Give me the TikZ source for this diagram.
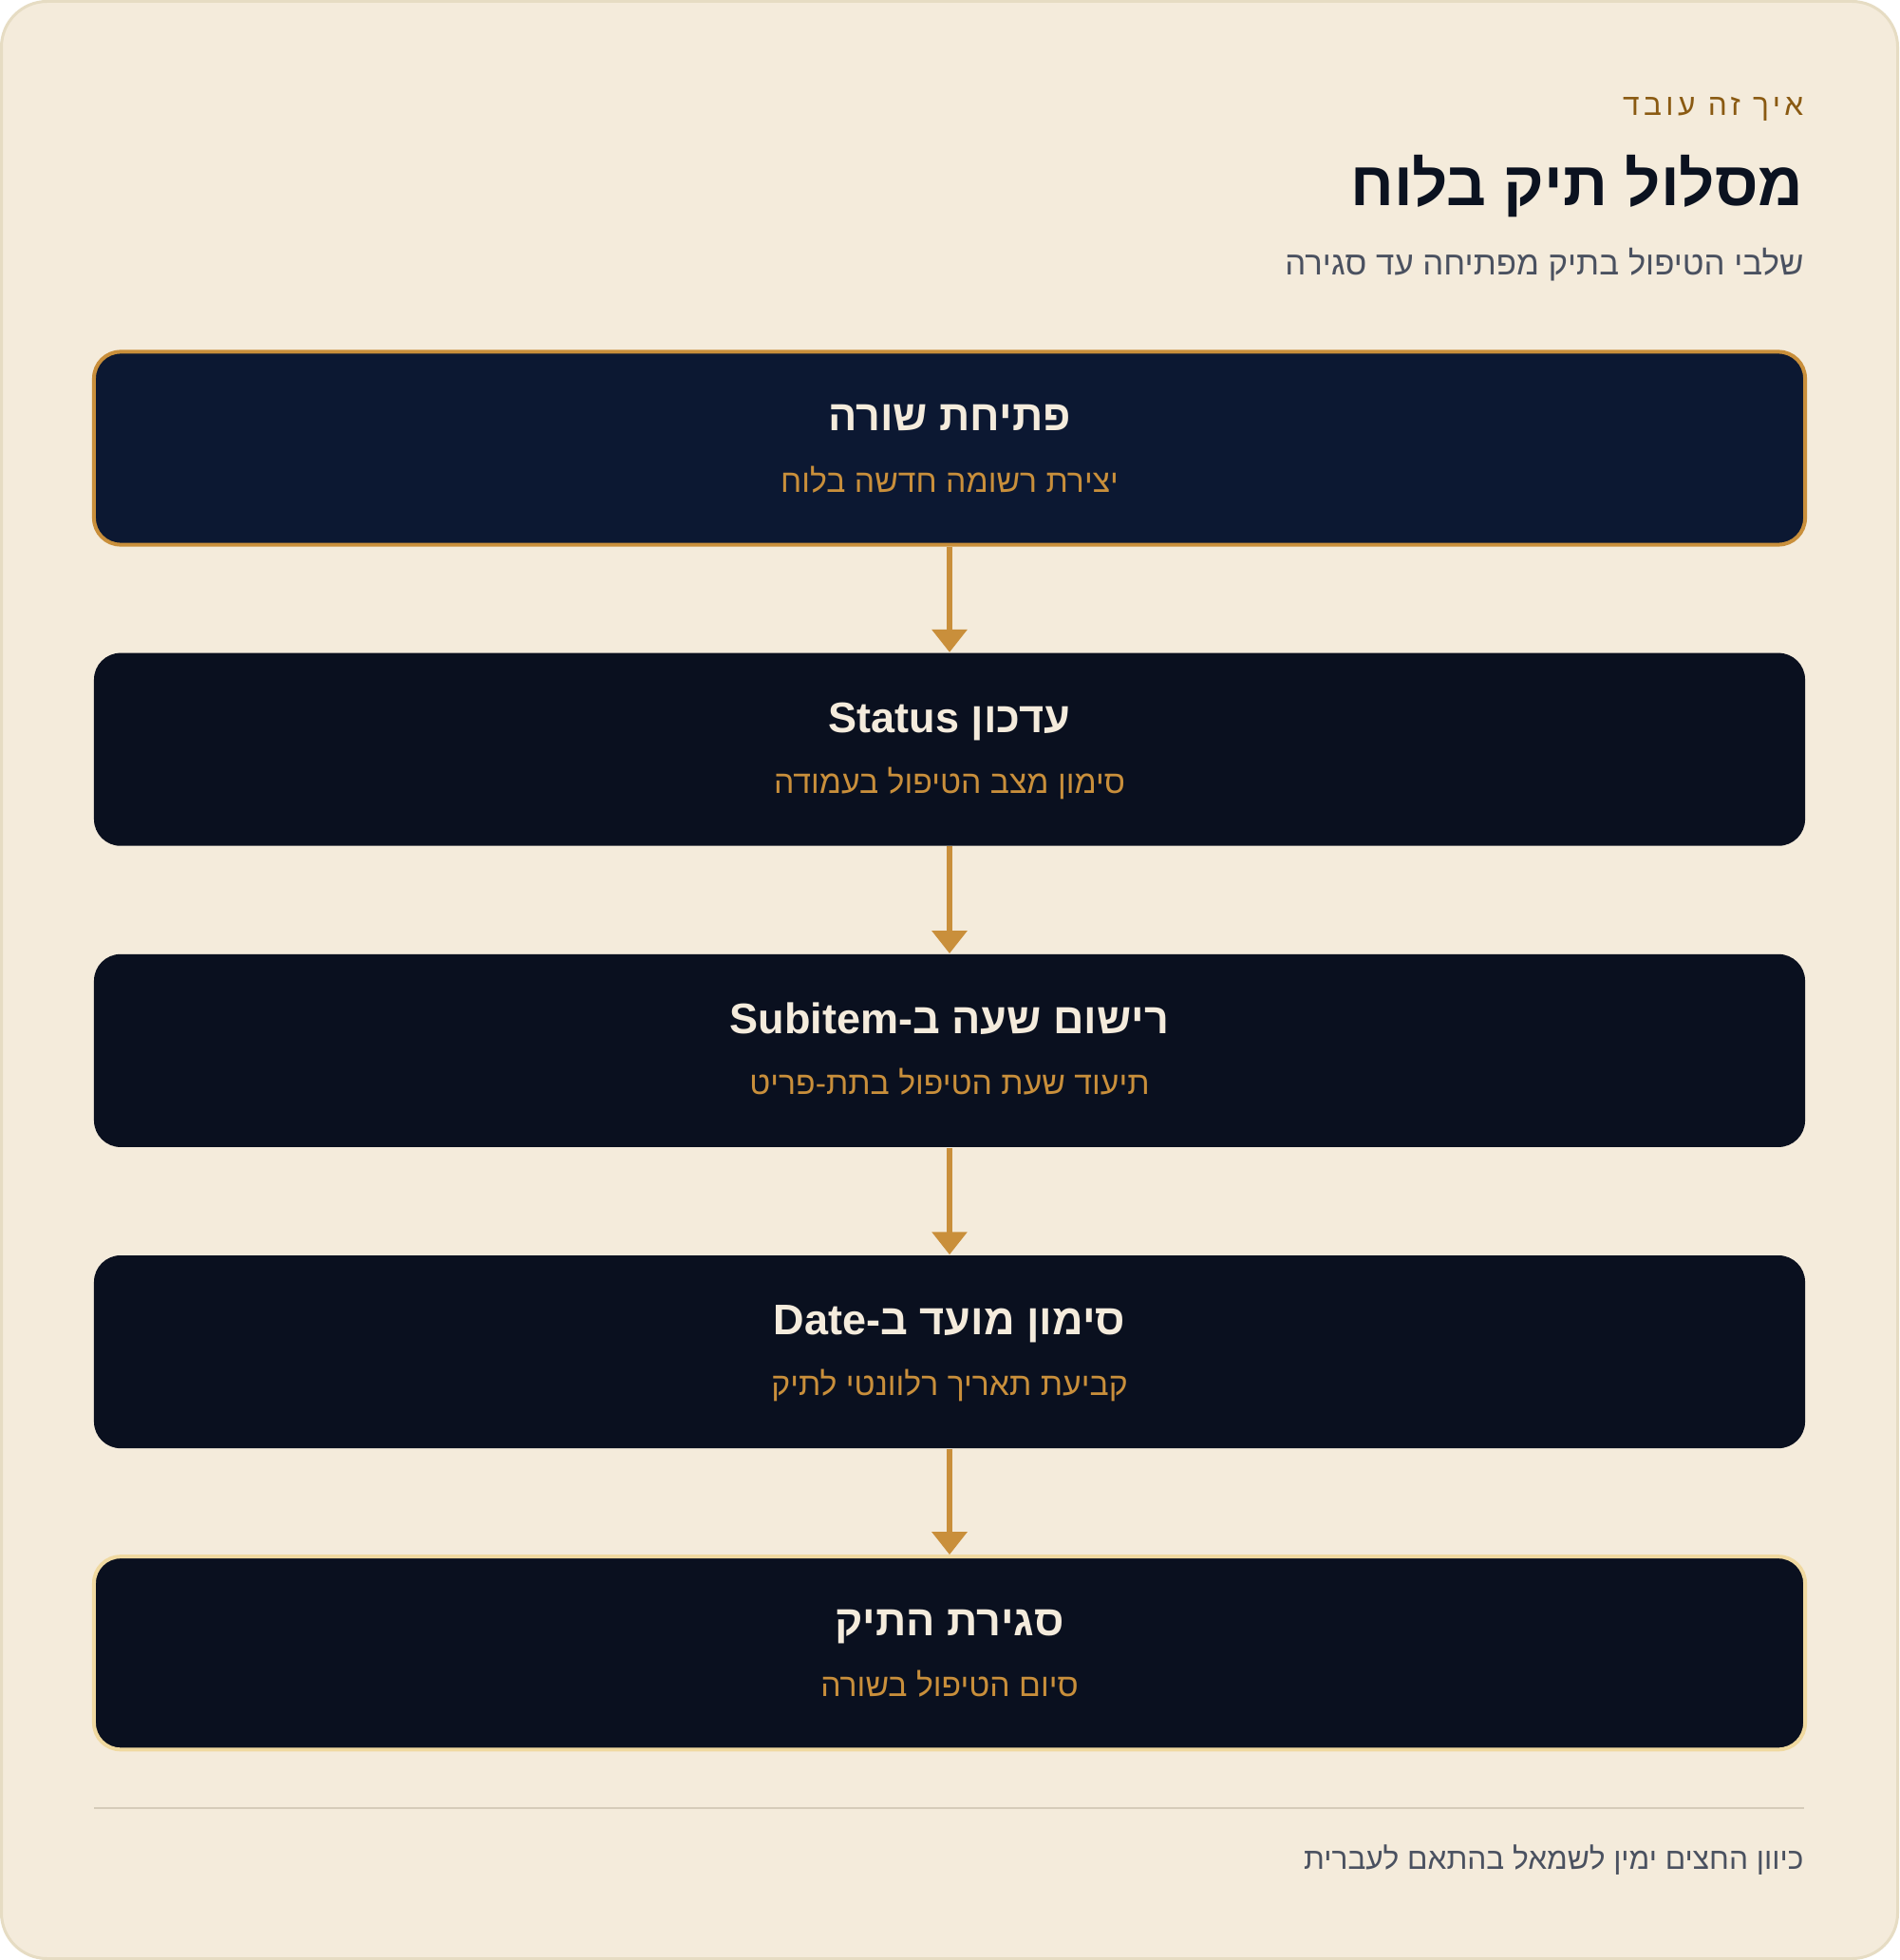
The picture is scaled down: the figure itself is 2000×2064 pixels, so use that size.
\documentclass[tikz,border=0pt]{standalone}
\usepackage{fontspec}
\setmainfont{Liberation Sans}
\newfontfamily\hebfont[Script=Hebrew]{Liberation Sans}
\newfontfamily\kickfont[Script=Hebrew, LetterSpace=14]{Liberation Sans}
\newfontfamily\latfont{Liberation Sans}
\usepackage{tikz}
\usetikzlibrary{positioning, arrows.meta}
\TeXXeTstate=1

\definecolor{paper}{HTML}{F4EBDB}
\definecolor{cardline}{HTML}{E6DCC3}
\definecolor{brownish}{HTML}{8A5A12}
\definecolor{ink}{HTML}{0B1220}
\definecolor{slate}{HTML}{4A5160}
\definecolor{navy}{HTML}{0C1832}
\definecolor{night}{HTML}{0A101F}
\definecolor{gold}{HTML}{C98F3B}
\definecolor{sand}{HTML}{F0D9A0}
\definecolor{cream}{HTML}{F4EBDC}
\definecolor{rule}{HTML}{D5CBB9}

\newcommand{\heb}[1]{{\hebfont\beginR #1\endR}}
\newcommand{\lat}[1]{\beginL{\latfont #1}\endL}

\begin{document}
\begin{tikzpicture}[x=0.01cm, y=-0.01cm, node distance=3.17cm,
  stage node/.style={rectangle, rounded corners=0.28cm, minimum width=18.01cm,
    minimum height=2.03cm, inner sep=0pt, fill=night},
  stage title/.style={anchor=base, text=cream, font=\hebfont\bfseries\fontsize{12.8}{16}\selectfont},
  stage note/.style={anchor=base, text=gold, font=\hebfont\fontsize{9.6}{12}\selectfont},
  page text/.style={anchor=base east, inner sep=0pt},
  flow/.style={gold, line width=0.06cm, -{Triangle[width=0.36cm,length=0.24cm]}}]

\fill[white] (0,0) rectangle (2000,2064);
\useasboundingbox (0,0) rectangle (2000,2064);
\draw[fill=paper, draw=cardline, line width=0.03cm, rounded corners=0.48cm]
  (1.5,1.5) rectangle (1998.5,2062.5);

% header
\node[page text, text=brownish, font=\kickfont\fontsize{9}{11}\selectfont]
  (kicker) at (1900,122) {\beginR איך זה עובד\endR};
\node[page text, text=ink, font=\hebfont\bfseries\fontsize{18.6}{23}\selectfont]
  (heading) at (1900,217) {\heb{מסלול תיק בלוח}};
\node[page text, text=slate, font=\hebfont\fontsize{9.9}{12}\selectfont]
  (lead) at (1900,290) {\heb{שלבי הטיפול בתיק מפתיחה עד סגירה}};

% stages
\node[stage node, fill=navy, draw=gold, line width=0.04cm] (s1) at (1000,472) {};
\node[stage node] (s2) [below of=s1] {};
\node[stage node] (s3) [below of=s2] {};
\node[stage node] (s4) [below of=s3] {};
\node[stage node, draw=sand, line width=0.04cm] (s5) [below of=s4] {};

\node[stage title] (t1) at ([yshift=0.18cm]s1.center) {\heb{פתיחת שורה}};
\node[stage note]  (n1) at ([yshift=-0.46cm]s1.center) {\heb{יצירת רשומה חדשה בלוח}};
\node[stage title] (t2) at ([yshift=0.18cm]s2.center) {\heb{עדכון \lat{Status}}};
\node[stage note]  (n2) at ([yshift=-0.46cm]s2.center) {\heb{סימון מצב הטיפול בעמודה}};
\node[stage title] (t3) at ([yshift=0.18cm]s3.center) {\heb{רישום שעה ב-\lat{Subitem}}};
\node[stage note]  (n3) at ([yshift=-0.46cm]s3.center) {\heb{תיעוד שעת הטיפול בתת-פריט}};
\node[stage title] (t4) at ([yshift=0.18cm]s4.center) {\heb{סימון מועד ב-\lat{Date}}};
\node[stage note]  (n4) at ([yshift=-0.46cm]s4.center) {\heb{קביעת תאריך רלוונטי לתיק}};
\node[stage title] (t5) at ([yshift=0.18cm]s5.center) {\heb{סגירת התיק}};
\node[stage note]  (n5) at ([yshift=-0.46cm]s5.center) {\heb{סיום הטיפול בשורה}};

\path[flow]
(s1) edge (s2)
(s2) edge (s3)
(s3) edge (s4)
(s4) edge (s5)
;

% footer
\coordinate (ruleL) at (99,1904);
\coordinate (ruleR) at (1900,1904);
\draw[rule, line width=0.02cm] (ruleL) -- (ruleR);
\node[page text, text=slate, font=\hebfont\fontsize{9}{11}\selectfont]
  (footnote) at (1900,1968) {\heb{כיוון החצים ימין לשמאל בהתאם לעברית}};

\end{tikzpicture}
\end{document}
